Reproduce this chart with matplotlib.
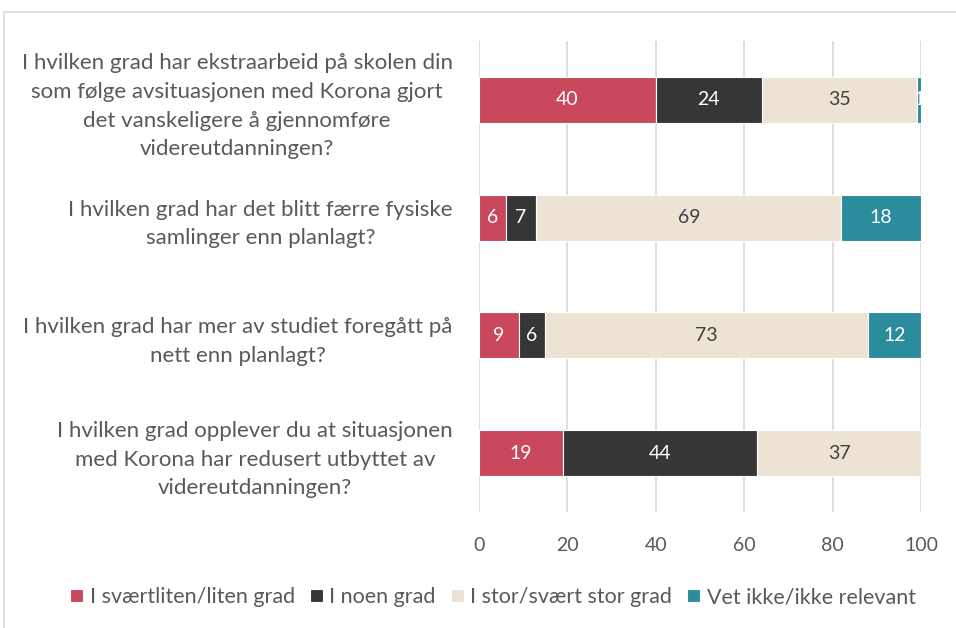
import matplotlib.pyplot as plt
from matplotlib.patches import Rectangle
import numpy as np

plt.rcParams['font.family'] = ['Lato', 'DejaVu Sans']

questions = [
    "I hvilken grad har ekstraarbeid på skolen din\nsom følge avsituasjonen med Korona gjort\ndet vanskeligere å gjennomføre\nvidereutdanningen?",
    "I hvilken grad har det blitt færre fysiske\nsamlinger enn planlagt?",
    "I hvilken grad har mer av studiet foregått på\nnett enn planlagt?",
    "I hvilken grad opplever du at situasjonen\nmed Korona har redusert utbyttet av\nvidereutdanningen?",
]
series_names = ["I sværtliten/liten grad", "I noen grad",
                "I stor/svært stor grad", "Vet ikke/ikke relevant"]
low = [40, 6, 9, 19]
some = [24, 7, 6, 44]
high = [35, 69, 73, 37]
unknown = [1, 18, 12, 0]
xticks = [0, 20, 40, 60, 80, 100]

colors = ['#C9485B', '#363636', '#EDE3D4', '#2B8C9D']
text_colors = ['white', 'white', '#404040', 'white']
grey = '#595959'

fig = plt.figure(figsize=(9.56, 6.28), dpi=100)
ax = fig.add_axes([479 / 956, 1 - 512 / 628, 442 / 956, 471 / 628])

# outer frame, cut off at right and bottom like the screenshot
fig.patches.append(Rectangle((4 / 956, -0.1), 1.2, 1 - 12 / 628 + 0.1,
                             transform=fig.transFigure, fill=False,
                             edgecolor='#D9D9D9', linewidth=1.2))

y = np.arange(len(questions))
left = np.zeros(len(questions))
for vals, name, c, tc in zip([low, some, high, unknown], series_names,
                             colors, text_colors):
    vals = np.array(vals, dtype=float)
    bars = ax.barh(y, vals, left=left, height=0.39, color=c, label=name,
                   edgecolor='white', linewidth=0.8, zorder=3)
    for b, v in zip(bars, vals):
        if v > 0:
            ax.text(b.get_x() + b.get_width() / 2, b.get_y() + b.get_height() / 2,
                    f"{v:g}", ha='center', va='center', color=tc,
                    fontsize=14, zorder=4)
    left += vals

ax.set_xlim(0, 100)
ax.set_ylim(len(questions) - 0.5, -0.5)
ax.set_xticks(xticks)
ax.set_xticklabels([str(t) for t in xticks], fontsize=14, color=grey)
ax.set_yticks(y)
ax.set_yticklabels(questions, fontsize=16, color=grey,
                   multialignment='center', linespacing=1.55)
ax.tick_params(axis='both', length=0)
ax.tick_params(axis='y', pad=19)
ax.tick_params(axis='x', pad=18)
ax.grid(axis='x', color='#D9D9D9', linewidth=1.2, zorder=0)
for s in ax.spines.values():
    s.set_visible(False)

leg = fig.legend(loc='center', bbox_to_anchor=(493 / 956, 1 - 597 / 628),
                 ncol=4, frameon=False, fontsize=15.5, handlelength=0.6,
                 handleheight=0.6, handletextpad=0.3, columnspacing=0.7)
for t in leg.get_texts():
    t.set_color(grey)

fig.savefig('out.png', dpi=100)
